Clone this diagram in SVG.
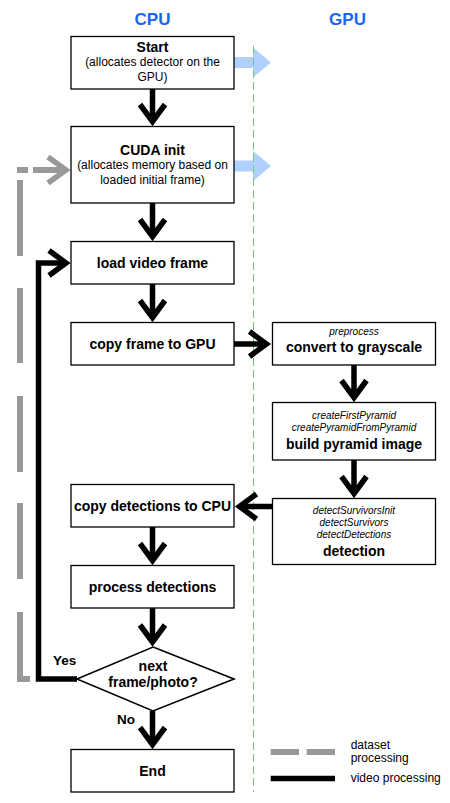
<svg xmlns="http://www.w3.org/2000/svg" width="450" height="803" viewBox="0 0 450 803">
<style>
text{font-family:"Liberation Sans",Arial,Helvetica,sans-serif;fill:#000;text-anchor:middle}
.t{font-size:17px;font-weight:bold;fill:#1a66f0}
.b{font-size:14px;font-weight:bold}
.s{font-size:12px}
.i{font-size:10px;font-style:italic}
.l{font-size:12px;text-anchor:start}
.box{fill:#fff;stroke:#000;stroke-width:1.3}
.blk{fill:none;stroke:#000;stroke-width:5.5;stroke-linejoin:miter}
.gry{fill:none;stroke:#999;stroke-width:6;stroke-linejoin:miter}
.blue{fill:#b0d0ff}
</style>
<defs>
<marker id="ah" markerUnits="userSpaceOnUse" orient="auto" overflow="visible" markerWidth="1" markerHeight="1" refX="0" refY="0">
<path d="M-17,-12.5 L0,0 L-17,12.5" fill="none" stroke="#000" stroke-width="5.5"/>
</marker>
<marker id="ahg" markerUnits="userSpaceOnUse" orient="auto" overflow="visible" markerWidth="1" markerHeight="1" refX="0" refY="0">
<path d="M-18,-13 L0,0 L-18,13" fill="none" stroke="#999" stroke-width="5.5"/>
</marker>
</defs>
<rect width="450" height="803" fill="#fff"/>
<g id="lanes">
<text class="t" x="152.5" y="25">CPU</text>
<text class="t" x="347.5" y="25">GPU</text>
</g>
<g id="gpu-transfer">
<polygon class="blue" points="234,57 253,57 253,47.5 271,62.5 253,77.5 253,68 234,68"/>
<polygon class="blue" points="234,160.5 253,160.5 253,151 271,166 253,181 253,171.5 234,171.5"/>
</g>
<line id="divider" x1="253.5" y1="46" x2="253.5" y2="792" stroke="#77c577" stroke-width="1" stroke-dasharray="8,4"/>
<g id="connectors">
<line class="blk" x1="152.5" y1="89" x2="152.5" y2="121.5" marker-end="url(#ah)"/>
<line class="blk" x1="152.5" y1="203" x2="152.5" y2="236.5" marker-end="url(#ah)"/>
<line class="blk" x1="152.5" y1="284" x2="152.5" y2="317.5" marker-end="url(#ah)"/>
<line class="blk" x1="234" y1="344" x2="266.5" y2="344" marker-end="url(#ah)"/>
<line class="blk" x1="354" y1="365" x2="354" y2="397.5" marker-end="url(#ah)"/>
<line class="blk" x1="354" y1="460" x2="354" y2="493.5" marker-end="url(#ah)"/>
<line class="blk" x1="272" y1="506.5" x2="239.5" y2="506.5" marker-end="url(#ah)"/>
<line class="blk" x1="152.5" y1="527" x2="152.5" y2="560.5" marker-end="url(#ah)"/>
<line class="blk" x1="152.5" y1="608" x2="152.5" y2="642" marker-end="url(#ah)"/>
<line class="blk" x1="152.5" y1="711" x2="152.5" y2="744.5" marker-end="url(#ah)"/>
<path class="blk" d="M77,679 H38.5 V263 H66" marker-end="url(#ah)"/>
<path class="gry" d="M30,679 H20 V612"/>
<path class="gry" d="M20,579 V503"/>
<path class="gry" d="M20,472 V396"/>
<path class="gry" d="M20,363 V288"/>
<path class="gry" d="M20,256 V180"/>
<path class="gry" d="M17,170 H28"/>
<path class="gry" d="M33,170 H66" marker-end="url(#ahg)"/>
<text class="b" x="53" y="665" style="text-anchor:start;font-size:13.5px">Yes</text>
<text class="b" x="117" y="724" style="text-anchor:start;font-size:13.5px">No</text>
</g>
<g id="start">
<rect class="box" x="71" y="36.5" width="163" height="52.5"/>
<text class="b" x="152.5" y="52.3">Start</text>
<text class="s" x="152.5" y="66">(allocates detector on the</text>
<text class="s" x="152.5" y="80.5">GPU)</text>
</g>
<g id="cuda-init">
<rect class="box" x="71" y="126.5" width="163" height="76.5"/>
<text class="b" x="152.5" y="155">CUDA init</text>
<text class="s" x="152.5" y="168.8">(allocates memory based on</text>
<text class="s" x="152.5" y="183.6">loaded initial frame)</text>
</g>
<g id="load-video-frame">
<rect class="box" x="71" y="241.5" width="163" height="42.5"/>
<text class="b" x="152.5" y="268">load video frame</text>
</g>
<g id="copy-frame">
<rect class="box" x="71" y="322.5" width="163" height="42.5"/>
<text class="b" x="152.5" y="349">copy frame to GPU</text>
</g>
<g id="grayscale">
<rect class="box" x="272.5" y="322.5" width="163" height="42.5"/>
<text class="i" x="354" y="334.6">preprocess</text>
<text class="b" x="354" y="351.8">convert to grayscale</text>
</g>
<g id="pyramid">
<rect class="box" x="272.5" y="402.5" width="163" height="57.5"/>
<text class="i" x="354" y="419">createFirstPyramid</text>
<text class="i" x="354" y="430.5">createPyramidFromPyramid</text>
<text class="b" x="354" y="448.5">build pyramid image</text>
</g>
<g id="detection">
<rect class="box" x="272.5" y="498.5" width="163" height="66"/>
<text class="i" x="354" y="514">detectSurvivorsInit</text>
<text class="i" x="354" y="526">detectSurvivors</text>
<text class="i" x="354" y="537.5">detectDetections</text>
<text class="b" x="354" y="555.5">detection</text>
</g>
<g id="copy-detections">
<rect class="box" x="71" y="484.5" width="163" height="42.5"/>
<text class="b" x="152.5" y="511">copy detections to CPU</text>
</g>
<g id="process-detections">
<rect class="box" x="71" y="565.5" width="163" height="42.5"/>
<text class="b" x="152.5" y="591.5">process detections</text>
</g>
<g id="next-frame">
<polygon points="153,647 234,679 153,711 77,679" fill="#fff" stroke="#000" stroke-width="1.6"/>
<text class="b" x="153" y="670.5">next</text>
<text class="b" x="153" y="686.5">frame/photo?</text>
</g>
<g id="end">
<rect class="box" x="71" y="749.5" width="163" height="42.5"/>
<text class="b" x="152.5" y="776">End</text>
</g>
<g id="legend">
<path class="gry" d="M270.7,752 H299 M306.7,752 H335"/>
<path class="blk" d="M270.7,778.5 H335"/>
<text class="l" x="350.7" y="749">dataset</text>
<text class="l" x="350.7" y="762">processing</text>
<text class="l" x="350.7" y="782">video processing</text>
</g>
</svg>
